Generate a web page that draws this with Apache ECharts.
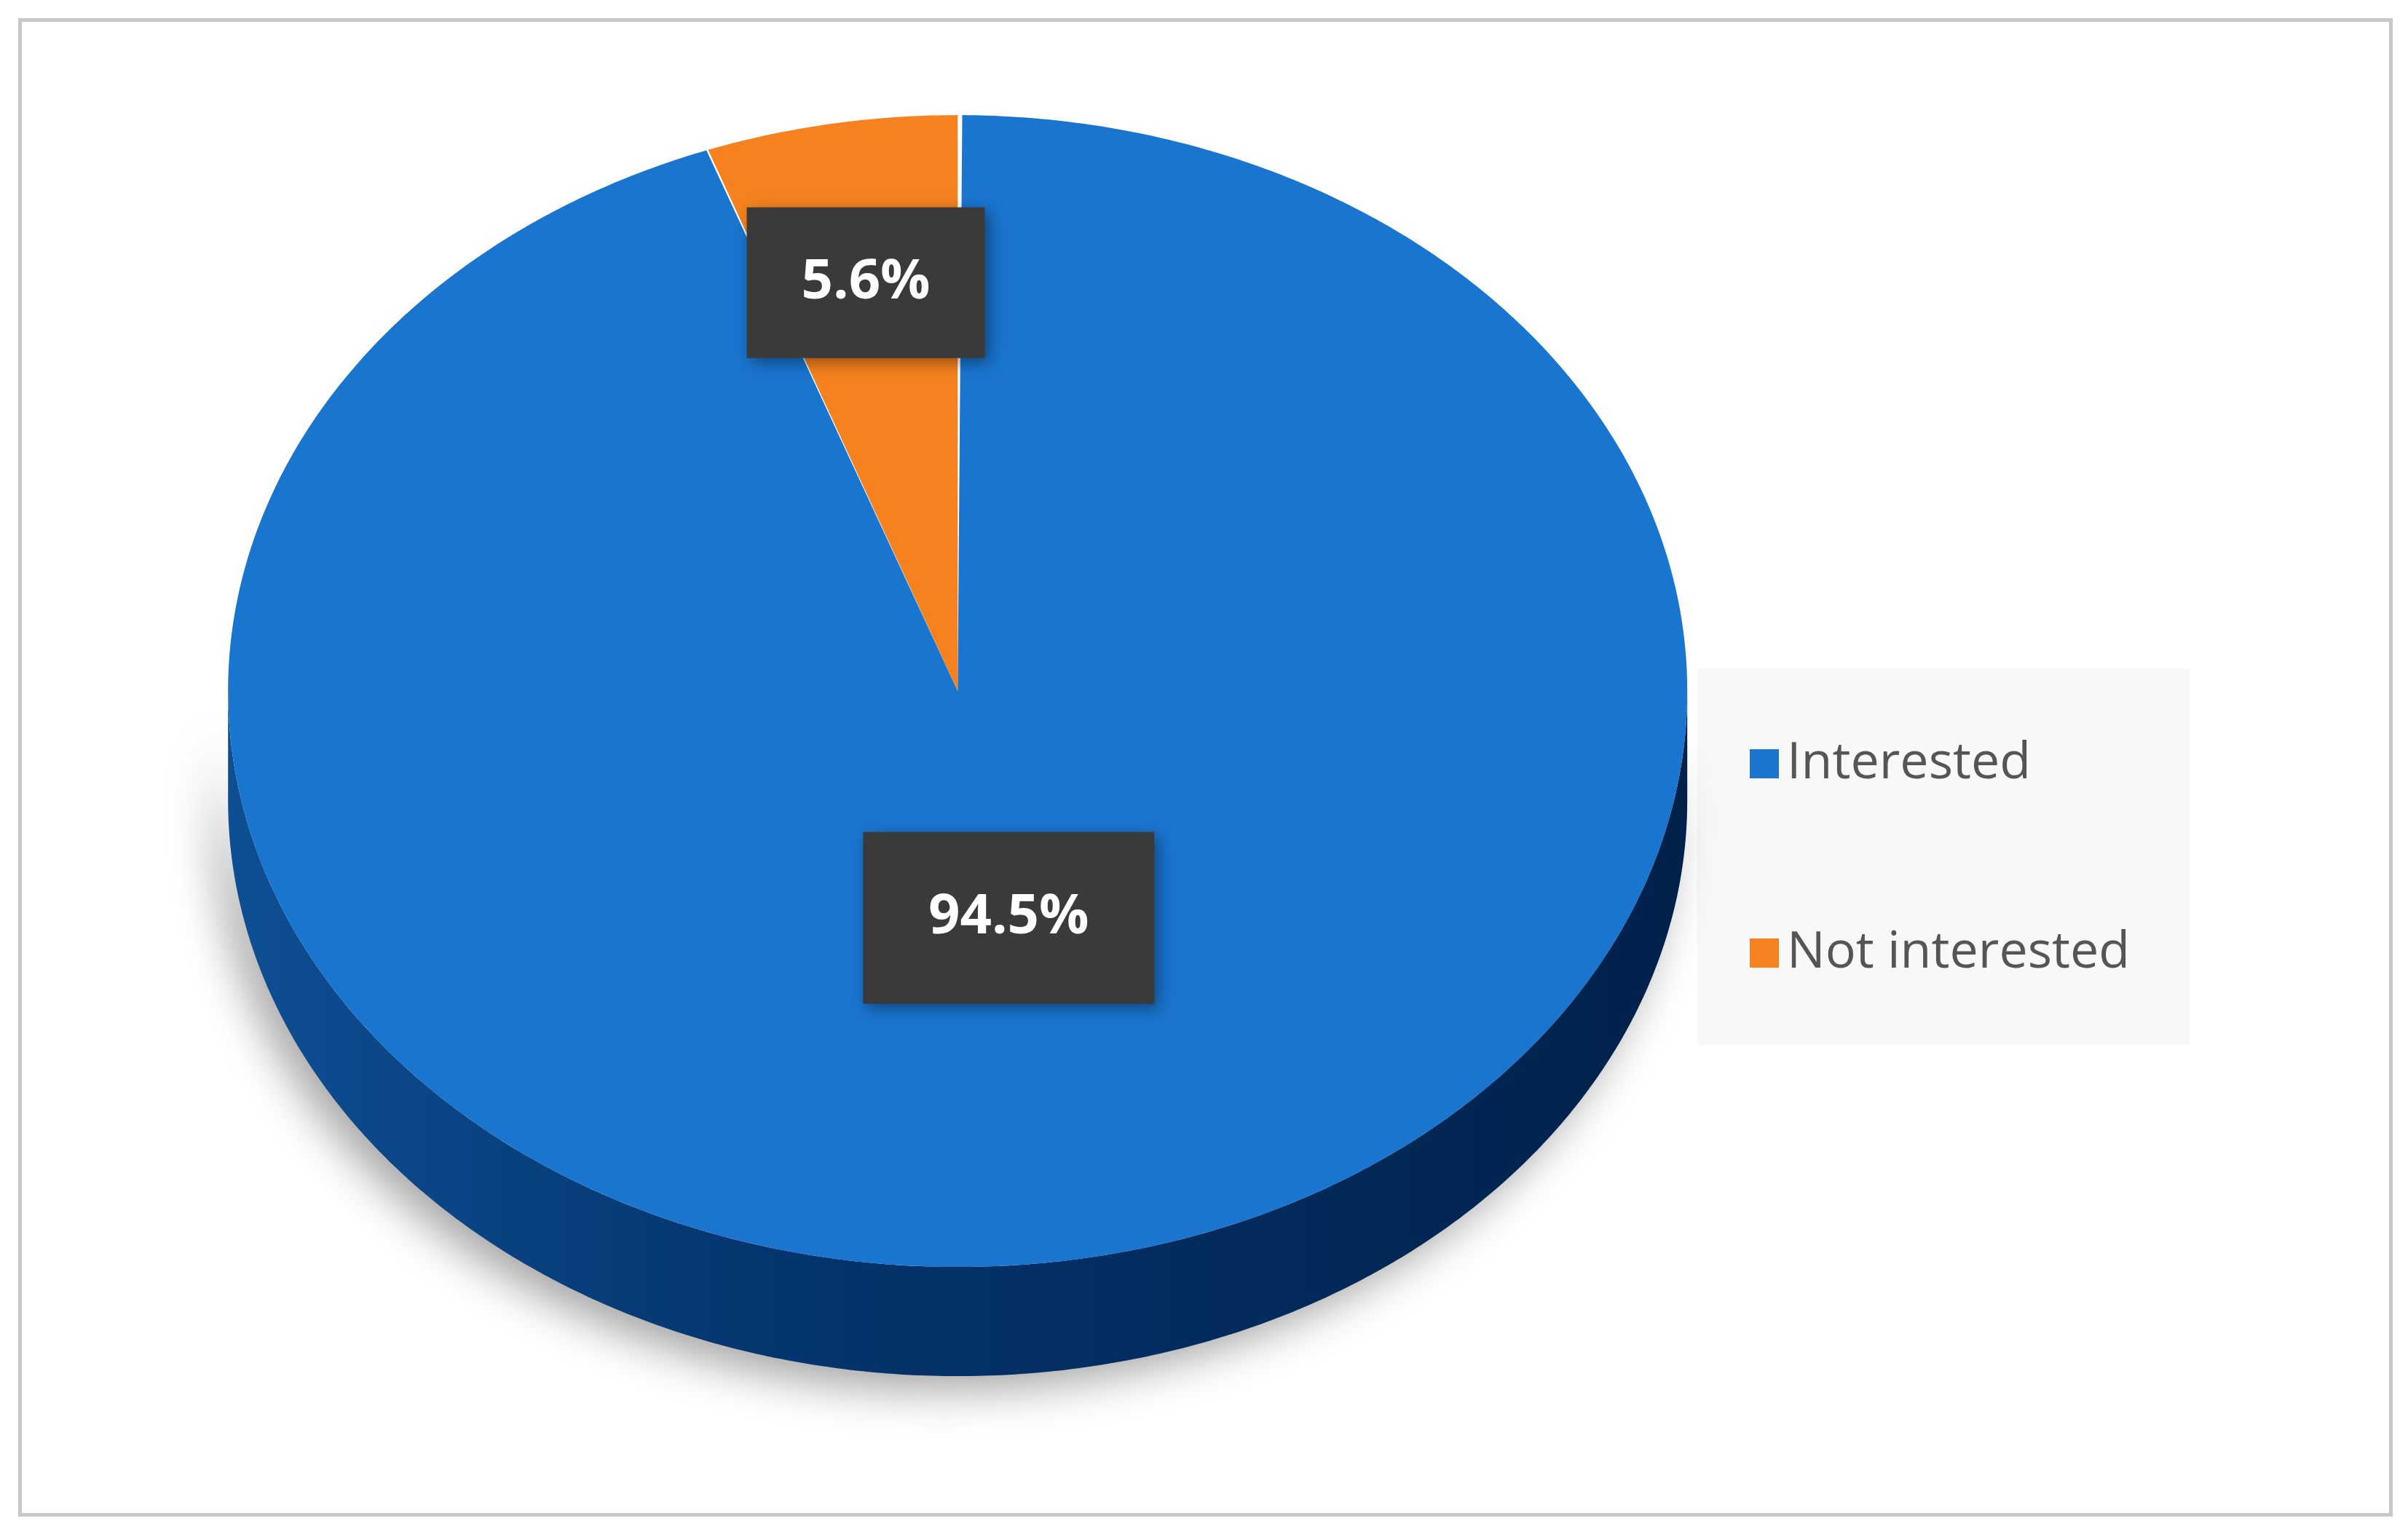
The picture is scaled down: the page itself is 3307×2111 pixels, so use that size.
<!DOCTYPE html>
<html><head><meta charset="utf-8">
<script src="https://cdn.jsdelivr.net/npm/echarts@6/dist/echarts.min.js"></script>
<style>html,body{margin:0;background:#fff}#c{width:3307px;height:2111px}</style>
</head><body><div id="c"></div>
<script>
var categories = ['Interested', 'Not interested'];
var values = [94.5, 5.6];
var labels = ['94.5%', '5.6%'];
var colors = ['#1a75cf', '#f5821f'];

var chart = echarts.init(document.getElementById('c'));
var total = values.reduce(function (a, b) { return a + b; }, 0);

// angle ranges: orange starts at 12 o'clock going counter-clockwise, blue fills the rest
function range(i) {
  var a = values[1] / total * 360;
  return i === 1 ? [90, 90 + a] : [90 + a, 450];
}

function renderSlice(params, api) {
  var W = api.getWidth(), H = api.getHeight();
  var cx = W * 0.3977, cy = H * 0.4496, rx = 1002, ry = 791, depth = 150;
  var i = params.seriesIndex;
  var r = range(i);
  function pt(t, f, dy) {
    var rad = t * Math.PI / 180;
    return [cx + rx * f * Math.cos(rad), cy - ry * f * Math.sin(rad) + (dy || 0)];
  }
  var top = [[cx, cy]];
  for (var t = r[0]; t <= r[1] + 0.001; t += 0.5) top.push(pt(t, 1));
  var children = [];
  // front side wall (bottom half of the ellipse)
  var s0 = Math.max(r[0], 180), s1 = Math.min(r[1], 360);
  if (s1 > s0) {
    var side = [];
    for (var t2 = s0; t2 <= s1 + 0.001; t2 += 0.5) side.push(pt(t2, 1));
    for (var t3 = s1; t3 >= s0 - 0.001; t3 -= 0.5) side.push(pt(t3, 1, depth));
    children.push({
      type: 'polygon', shape: { points: side },
      style: {
        fill: new echarts.graphic.LinearGradient(0, 0, 1, 0, [
          { offset: 0, color: '#0e4f94' }, { offset: 0.35, color: '#053670' },
          { offset: 1, color: '#00214a' }]),
        shadowBlur: 60, shadowColor: 'rgba(0,0,0,0.35)', shadowOffsetX: -20, shadowOffsetY: 20
      }
    });
  }
  children.push({ type: 'polygon', shape: { points: top }, style: { fill: colors[i] } });
  var mid = (r[0] + r[1]) / 2;
  var p = pt(mid, i === 1 ? 0.72 : 0.4);
  var bw = i === 1 ? 327 : 400, bh = i === 1 ? 207 : 236;
  children.push({
    type: 'rect', shape: { x: p[0] - bw / 2, y: p[1] - bh / 2, width: bw, height: bh },
    style: { fill: '#3a3a3a', shadowBlur: 20, shadowColor: 'rgba(0,0,0,0.4)', shadowOffsetX: 6, shadowOffsetY: 6 }
  });
  children.push({
    type: 'text', x: p[0], y: p[1],
    style: { text: labels[i], fill: '#fff', font: 'bold 76px "Open Sans"', align: 'center', verticalAlign: 'middle' }
  });
  return { type: 'group', children: children };
}

var series = categories.map(function (name, i) {
  return {
    type: 'custom', name: name, coordinateSystem: 'none',
    itemStyle: { color: colors[i] },
    data: [values[i]], renderItem: renderSlice
  };
});

chart.setOption({
  backgroundColor: '#fff',
  animation: false,
  graphic: [
    { type: 'rect', left: 25, top: 25, shape: { width: 3256, height: 2053 },
      style: { fill: 'none', stroke: '#c8c8c8', lineWidth: 5 } },
    { type: 'rect', left: 2331, top: 918, shape: { width: 676, height: 517 },
      style: { fill: '#f8f8f8' } }
  ],
  legend: {
    orient: 'vertical', left: 2398, top: 1004,
    icon: 'rect', itemWidth: 40, itemHeight: 40, itemGap: 180,
    textStyle: { fontSize: 70, color: '#555', lineHeight: 80, fontFamily: 'Open Sans', padding: [0, 0, 0, 6] },
    data: categories
  },
  series: series
});
</script></body></html>
